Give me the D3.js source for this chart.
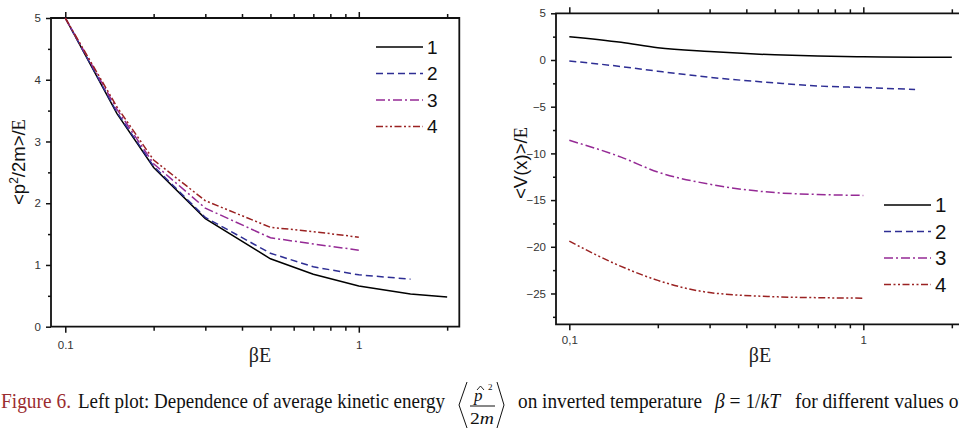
<!DOCTYPE html>
<html>
<head>
<meta charset="utf-8">
<script src="https://cdn.jsdelivr.net/npm/d3@7"></script>
<style>
  html, body { margin: 0; padding: 0; background: #fff; }
  svg { display: block; }
</style>
</head>
<body>
<div id="chart"></div>
<script>
// DATA
const betaE = [0.1, 0.15, 0.2, 0.3, 0.5, 0.7, 1, 1.5, 2];
const seriesNames = ['1', '2', '3', '4'];

// left plot: <p^2/2m>/E
const kinetic1 = [5, 3.45, 2.58, 1.75, 1.1, 0.85, 0.66, 0.53, 0.48];
const kinetic2 = [5, 3.47, 2.6, 1.77, 1.19, 0.97, 0.84, 0.77];
const kinetic3 = [5, 3.52, 2.64, 1.92, 1.44, 1.34, 1.24];
const kinetic4 = [5, 3.56, 2.7, 2.04, 1.61, 1.54, 1.45];

// right plot: <V(x)>/E
const potential1 = [2.5, 1.9, 1.3, 0.9, 0.55, 0.42, 0.35, 0.3, 0.3];
const potential2 = [-0.1, -0.7, -1.2, -1.85, -2.45, -2.78, -2.95, -3.15];
const potential3 = [-8.6, -10.4, -12.0, -13.3, -14.2, -14.4, -14.5];
const potential4 = [-19.4, -22.1, -23.6, -24.9, -25.35, -25.45, -25.5];

const xMajor = [0.1, 1];
const xMinor = [0.2, 0.3, 0.4, 0.5, 0.6, 0.7, 0.8, 0.9, 2];
const leftYMajor = [0, 1, 2, 3, 4, 5];
const leftYMinor = [0.5, 1.5, 2.5, 3.5, 4.5];
const rightYMajor = [5, 0, -5, -10, -15, -20, -25];
const rightYMinor = [2.5, -2.5, -7.5, -12.5, -17.5, -22.5, -27.5];

// STYLES
const lineColors = ['#000000', '#2e2e94', '#952a95', '#9a2222'];
const lineDashes = [null, '7,4', '9,3,2,3', '7,2.5,2,2.5,2,2.5'];

const width = 959, height = 432;
const svg = d3.select('#chart').append('svg')
    .attr('width', width)
    .attr('height', height)
    .attr('viewBox', `0 0 ${width} ${height}`);

const sans = '"Liberation Sans", Arial, sans-serif';
const serif = '"Liberation Serif", "Times New Roman", serif';

function drawPlot(cfg) {
    const x = d3.scaleLog().domain(cfg.xDomain).range([cfg.left, cfg.right]);
    const y = d3.scaleLinear().domain(cfg.yDomain).range([cfg.bottom, cfg.top]);
    const g = svg.append('g');

    // frame
    g.append('path')
        .attr('d', `M${cfg.left},${cfg.top}H${cfg.right}V${cfg.bottom}H${cfg.left}Z`)
        .attr('fill', 'none').attr('stroke', '#111').attr('stroke-width', 1.8);

    const styleAxis = sel => {
        sel.select('.domain').remove();
        sel.selectAll('.tick line').attr('stroke', '#111').attr('stroke-width', 1.5);
        sel.selectAll('.tick text').attr('fill', '#333')
            .style('font-family', sans).style('font-size', '11.5px');
    };

    // bottom
    g.append('g').attr('transform', `translate(0,${cfg.bottom})`)
        .call(d3.axisBottom(x).tickValues(xMajor).tickSize(6).tickPadding(cfg.xPad)
            .tickFormat(cfg.xFormat))
        .call(styleAxis);
    g.append('g').attr('transform', `translate(0,${cfg.bottom})`)
        .call(d3.axisBottom(x).tickValues(xMinor).tickSize(4).tickFormat(''))
        .call(styleAxis);
    // top
    g.append('g').attr('transform', `translate(0,${cfg.top})`)
        .call(d3.axisTop(x).tickValues(xMajor).tickSize(6).tickFormat(''))
        .call(styleAxis);
    g.append('g').attr('transform', `translate(0,${cfg.top})`)
        .call(d3.axisTop(x).tickValues(xMinor).tickSize(4).tickFormat(''))
        .call(styleAxis);
    // left
    g.append('g').attr('transform', `translate(${cfg.left},0)`)
        .call(d3.axisLeft(y).tickValues(cfg.yMajor).tickSize(5).tickPadding(5)
            .tickFormat(d3.format('d')))
        .call(styleAxis);
    g.append('g').attr('transform', `translate(${cfg.left},0)`)
        .call(d3.axisLeft(y).tickValues(cfg.yMinor).tickSize(3).tickFormat(''))
        .call(styleAxis);

    // lines
    const line = d3.line()
        .x(d => x(d[0]))
        .y(d => y(d[1]))
        .curve(cfg.curve);

    cfg.series.forEach((vals, i) => {
        g.append('path')
            .datum(vals.map((v, j) => [betaE[j], v]))
            .attr('fill', 'none')
            .attr('stroke', lineColors[i])
            .attr('stroke-width', 1.5)
            .attr('stroke-dasharray', lineDashes[i])
            .attr('d', line);
    });

    // legend
    const leg = g.append('g');
    seriesNames.forEach((name, i) => {
        const yy = cfg.legendY + i * cfg.legendStep;
        leg.append('line')
            .attr('x1', cfg.legendX).attr('x2', cfg.legendX + 47)
            .attr('y1', yy).attr('y2', yy)
            .attr('stroke', lineColors[i]).attr('stroke-width', 1.5)
            .attr('stroke-dasharray', lineDashes[i]);
        leg.append('text')
            .attr('x', cfg.legendX + 51).attr('y', yy)
            .attr('dy', '0.36em')
            .style('font-family', sans).style('font-size', cfg.legendFont)
            .attr('fill', '#111')
            .text(name);
    });

    // x title
    g.append('text')
        .attr('x', cfg.xTitleX).attr('y', 362)
        .attr('text-anchor', 'middle')
        .style('font-family', serif).style('font-size', '20px')
        .attr('fill', '#222')
        .text('βE');

    // y title
    const yt = g.append('text')
        .attr('transform', `translate(${cfg.yTitleX},${cfg.yTitleY}) rotate(-90)`)
        .attr('text-anchor', 'middle')
        .style('font-family', sans).style('font-size', '18.5px')
        .attr('fill', '#111');
    cfg.yTitle(yt);
}

drawPlot({
    left: 51, right: 459.3, top: 18, bottom: 326.7,
    xDomain: [0.0894, 2.2], yDomain: [0, 5],
    yMajor: leftYMajor, yMinor: leftYMinor,
    xFormat: d => (d === 1 ? '1' : '0.1'), xPad: 8,
    series: [kinetic1, kinetic2, kinetic3, kinetic4],
    curve: d3.curveLinear,
    legendX: 376, legendY: 47, legendStep: 26.5, legendFont: '19px',
    xTitleX: 260, yTitleX: 25, yTitleY: 162,
    yTitle: t => {
        t.append('tspan').text('<p');
        t.append('tspan').attr('dy', -7).style('font-size', '12px').text('2');
        t.append('tspan').attr('dy', 7).text('/2m>/');
        t.append('tspan').style('font-family', serif).text('E');
    }
});

drawPlot({
    left: 556, right: 964, top: 13.3, bottom: 324.3,
    xDomain: [0.0901, 2.2], yDomain: [-28.3, 5],
    yMajor: rightYMajor, yMinor: rightYMinor,
    xFormat: d => (d === 1 ? '1' : '0,1'), xPad: 6,
    series: [potential1, potential2, potential3, potential4],
    curve: d3.curveMonotoneX,
    legendX: 884, legendY: 205, legendStep: 26.5, legendFont: '20.5px',
    xTitleX: 760, yTitleX: 527, yTitleY: 163,
    yTitle: t => {
        t.append('tspan').text('<V(x)>/');
        t.append('tspan').style('font-family', serif).text('E');
    }
});

// CAPTION
const cap = svg.append('g')
    .style('font-family', serif).style('font-size', '21px');
const capBase = 408;

cap.append('text').attr('x', 1).attr('y', capBase)
    .attr('fill', '#9b2d30')
    .attr('textLength', 70).attr('lengthAdjust', 'spacingAndGlyphs')
    .text('Figure 6.');
cap.append('text').attr('x', 78).attr('y', capBase)
    .attr('fill', '#111')
    .attr('textLength', 367).attr('lengthAdjust', 'spacingAndGlyphs')
    .text('Left plot: Dependence of average kinetic energy');

// <p^2/2m>
cap.append('path').attr('d', 'M467,382L459,405L467,428')
    .attr('fill', 'none').attr('stroke', '#111').attr('stroke-width', 1);
cap.append('path').attr('d', 'M497,382L504,405L497,428')
    .attr('fill', 'none').attr('stroke', '#111').attr('stroke-width', 1);
cap.append('path').attr('d', 'M477,390L480.5,386L484,390')
    .attr('fill', 'none').attr('stroke', '#111').attr('stroke-width', 0.9);
cap.append('text').attr('x', 474).attr('y', 401)
    .style('font-style', 'italic').style('font-size', '17px').attr('fill', '#111').text('p');
cap.append('text').attr('x', 488).attr('y', 390)
    .style('font-size', '9px').attr('fill', '#111').text('2');
cap.append('line').attr('x1', 470).attr('x2', 495).attr('y1', 406).attr('y2', 406)
    .attr('stroke', '#111').attr('stroke-width', 1);
cap.append('text').attr('x', 470).attr('y', 424)
    .attr('textLength', 24).attr('lengthAdjust', 'spacingAndGlyphs')
    .style('font-size', '17px').attr('fill', '#111')
    .call(t => {
        t.append('tspan').text('2');
        t.append('tspan').style('font-style', 'italic').text('m');
    });

cap.append('text').attr('x', 518).attr('y', capBase)
    .attr('fill', '#111')
    .attr('textLength', 184).attr('lengthAdjust', 'spacingAndGlyphs')
    .text('on inverted temperature');
cap.append('text').attr('x', 715).attr('y', capBase)
    .attr('fill', '#111')
    .attr('textLength', 65).attr('lengthAdjust', 'spacingAndGlyphs')
    .call(t => {
        t.append('tspan').style('font-style', 'italic').text('β');
        t.append('tspan').text(' = 1/');
        t.append('tspan').style('font-style', 'italic').text('kT');
    });
cap.append('text').attr('x', 795).attr('y', capBase)
    .attr('fill', '#111')
    .attr('textLength', 170).attr('lengthAdjust', 'spacingAndGlyphs')
    .text('for different values of');
</script>
</body>
</html>
